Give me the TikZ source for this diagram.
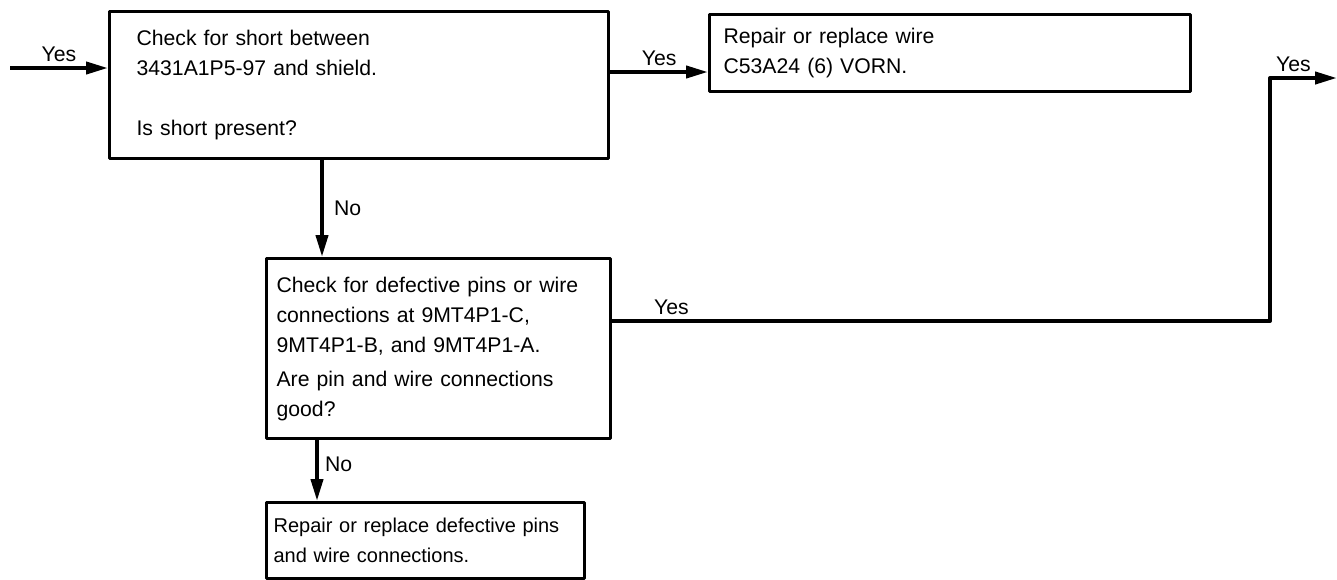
\documentclass[tikz,border=0pt]{standalone}
\usepackage{fontspec}
\setmainfont{Liberation Sans}
\usetikzlibrary{arrows.meta,positioning}
\begin{document}
\begin{tikzpicture}[x=.5pt,y=-.5pt,line join=round,font=\fontsize{10.6}{15}\selectfont,
	box/.style={draw,line width=1.6pt,anchor=north west,align=left,inner ysep=0pt},
	arr/.style={line width=2pt,-{Triangle[length=11pt,width=6pt]}},
	lbl/.style={inner sep=2pt}]
	\useasboundingbox (0,0) rectangle (1337,579);
	\node[box,minimum width=249.5pt,minimum height=73.5pt,text width=222.5pt,inner xsep=13.5pt] (chk) at (108,10) {Check for short between\\3431A1P5-97 and shield.\\[15pt]Is short present?};
	\node[box,minimum width=240.5pt,minimum height=38.5pt,text width=226.5pt,inner xsep=7pt] (rep) at (708,13) {Repair or replace wire\\C53A24 (6) VORN.};
	\node[box,minimum width=172pt,minimum height=90pt,text width=162pt,inner xsep=5pt] (def) at (265,257) {Check for defective pins or wire\\connections at 9MT4P1-C,\\9MT4P1-B, and 9MT4P1-A.\\[2pt]Are pin and wire connections\\good?};
	\node[box,minimum width=159pt,minimum height=38pt,text width=152pt,inner xsep=3.5pt,font=\fontsize{10}{15}\selectfont] (fix) at (265,501) {Repair or replace defective pins\\and wire connections.};
	% free ends and offsets of the connectors
	\coordinate (in) at (10,68);
	\coordinate (out) at (1337,78);
	\coordinate (xa) at (322,0); \coordinate (xb) at (317,0);
	\coordinate (ya) at (0,72); \coordinate (yb) at (0,321);
	\draw[arr] (in) -- (in -| chk.west) node[lbl,above,midway] (yes1) {Yes};
	\draw[arr] (chk.east |- ya) -- (rep.west |- ya) node[lbl,above,midway] (yes2) {Yes};
	\draw[arr] (chk.south -| xa) -- (def.north -| xa) node[lbl,right=3pt,midway] (no1) {No};
	\draw[arr] (def.south -| xb) -- (fix.north -| xb) node[lbl,right=1pt,midway,yshift=3pt] (no2) {No};
	\draw[arr] (def.east |- yb) -| ([xshift=-33.5pt]out) node[lbl,above,pos=.045] (yes3) {Yes} -- (out) node[lbl,above,midway,xshift=-5pt] (yes4) {Yes};
\end{tikzpicture}
\end{document}
